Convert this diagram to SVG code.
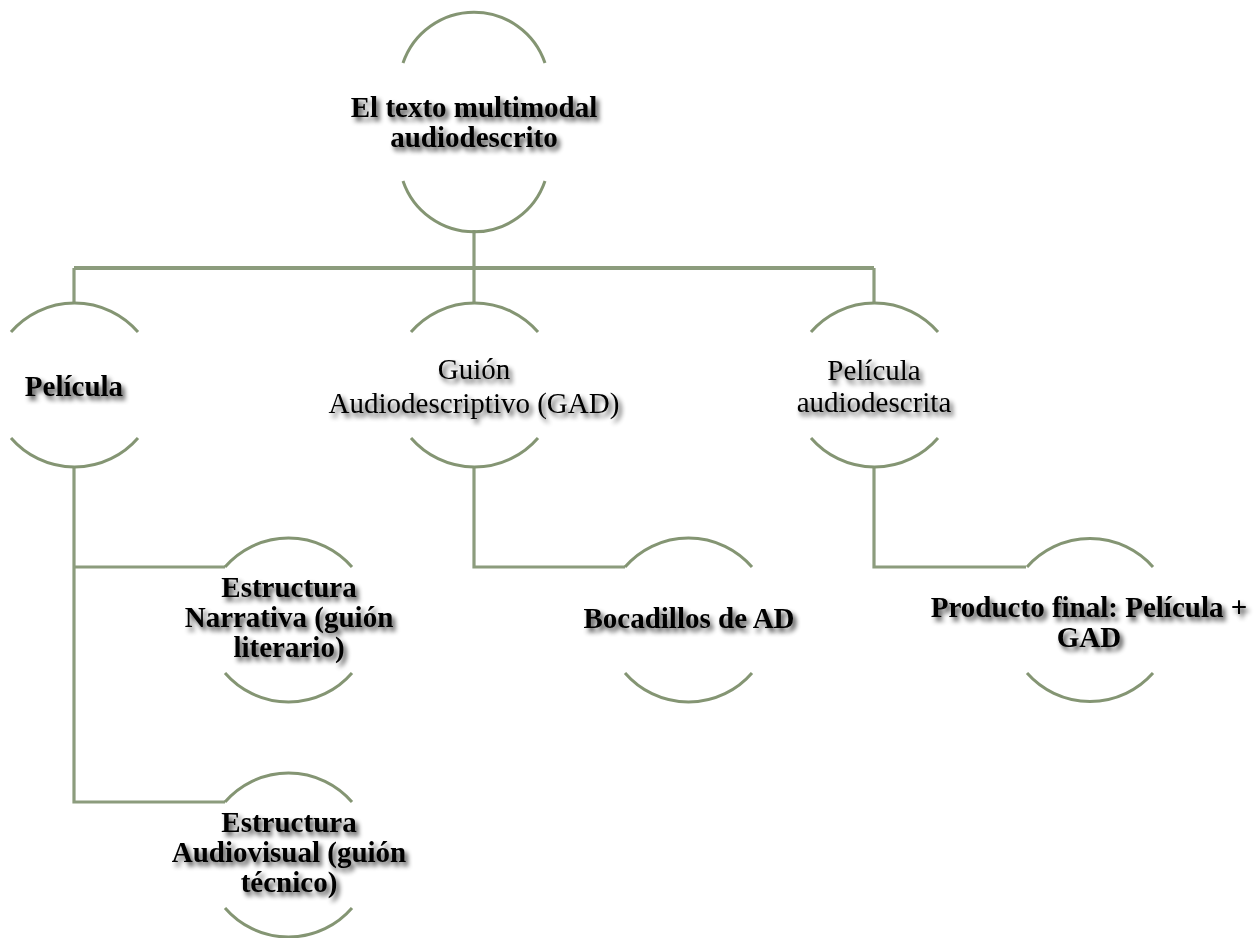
<svg xmlns="http://www.w3.org/2000/svg" width="1254" height="938" viewBox="0 0 1254 938">
<defs>
<filter id="sh" x="-10%" y="-30%" width="125%" height="170%">
<feGaussianBlur in="SourceAlpha" stdDeviation="2.4"/>
<feOffset dx="2.5" dy="3.5" result="b"/>
<feComponentTransfer><feFuncA type="linear" slope="0.75"/></feComponentTransfer>
<feMerge><feMergeNode/><feMergeNode in="SourceGraphic"/></feMerge>
</filter>
</defs>
<style>
.arc{fill:none;stroke:#849573;stroke-width:3}
.con{fill:none;stroke:#8c9c7d;stroke-width:3.2}
.bus{stroke-width:4}
text{font-family:"Liberation Serif","Times New Roman",serif;font-size:29px;fill:#000;text-anchor:middle;filter:url(#sh)}
.b{font-weight:bold}
</style>
<rect width="1254" height="938" fill="#fff"/>
<g id="connectors">
<path class="con" d="M474,230 V268"/>
<path class="con bus" d="M74,268 H874"/>
<path class="con" d="M74,268 V303 M474,268 V303 M874,268 V303"/>
<path class="con" d="M74,468 V802 H225 M74,567 H225"/>
<path class="con" d="M474,468 V567 H625"/>
<path class="con" d="M874,468 V567 H1026"/>
</g>
<g id="n-root">
<path class="arc" d="M403,63 A75,75 0 0 1 545,63"/>
<path class="arc" d="M403,181 A75,75 0 0 0 545,181"/>
<text class="b" x="474" y="117">El texto multimodal</text>
<text class="b" x="474" y="147">audiodescrito</text>
</g>
<g id="n-pelicula">
<path class="arc" d="M11,332 A84,84 0 0 1 138,332"/>
<path class="arc" d="M11,438 A84,84 0 0 0 138,438"/>
<text class="b" x="74" y="396">Película</text>
</g>
<g id="n-guion">
<path class="arc" d="M411,332 A84,84 0 0 1 538,332"/>
<path class="arc" d="M411,438 A84,84 0 0 0 538,438"/>
<text x="474" y="379">Guión</text>
<text x="474" y="413">Audiodescriptivo (GAD)</text>
</g>
<g id="n-pelaud">
<path class="arc" d="M811,332 A84,84 0 0 1 938,332"/>
<path class="arc" d="M811,438 A84,84 0 0 0 938,438"/>
<text x="874" y="380">Película</text>
<text x="874" y="412">audiodescrita</text>
</g>
<g id="n-narrativa">
<path class="arc" d="M225,567 A84,84 0 0 1 352,567"/>
<path class="arc" d="M225,673 A84,84 0 0 0 352,673"/>
<text class="b" x="289" y="597">Estructura</text>
<text class="b" x="289" y="627">Narrativa (guión</text>
<text class="b" x="289" y="657">literario)</text>
</g>
<g id="n-audiovisual">
<path class="arc" d="M225,802 A84,84 0 0 1 352,802"/>
<path class="arc" d="M225,908 A84,84 0 0 0 352,908"/>
<text class="b" x="289" y="832">Estructura</text>
<text class="b" x="289" y="862">Audiovisual (guión</text>
<text class="b" x="289" y="892">técnico)</text>
</g>
<g id="n-bocadillos">
<path class="arc" d="M625,567 A84,84 0 0 1 752,567"/>
<path class="arc" d="M625,673 A84,84 0 0 0 752,673"/>
<text class="b" x="689" y="628">Bocadillos de AD</text>
</g>
<g id="n-producto">
<path class="arc" d="M1027,567 A84,84 0 0 1 1153,567"/>
<path class="arc" d="M1027,673 A84,84 0 0 0 1153,673"/>
<text class="b" x="1089" y="617">Producto final: Película +</text>
<text class="b" x="1089" y="647">GAD</text>
</g>
</svg>
